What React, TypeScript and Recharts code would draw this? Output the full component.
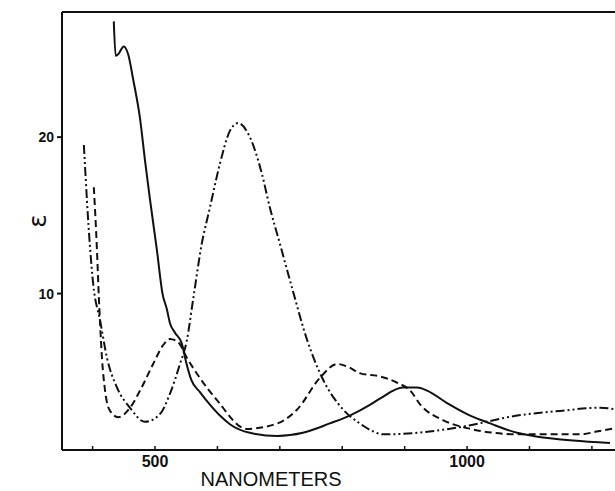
import React from 'react';
import { LineChart, Line, XAxis, YAxis, ReferenceLine } from 'recharts';

// wavelength (nm) / extinction readings, one pair of arrays per trace
const solidNm = [434, 437, 441, 450, 457, 465, 476, 484, 492, 503, 512, 519, 524, 532, 543, 550, 558, 572, 588, 604, 620, 652, 696, 737, 780, 812, 845, 861, 897, 920, 936, 968, 1005, 1037, 1080, 1106, 1170, 1229];
const solidEps = [27.4, 25.2, 25.3, 25.8, 25.3, 23.7, 21.2, 18.5, 16.0, 12.8, 10.0, 9.0, 8.1, 7.5, 6.8, 5.6, 4.5, 3.7, 2.9, 2.2, 1.65, 1.1, 0.9, 1.1, 1.7, 2.2, 2.9, 3.3, 4.0, 4.0, 3.8, 3.0, 2.2, 1.7, 1.1, 0.9, 0.6, 0.45];

const dashedNm = [402, 407, 410, 412, 415, 420, 428, 441, 460, 476, 497, 513, 524, 537, 551, 572, 599, 647, 696, 728, 764, 792, 810, 829, 861, 888, 909, 925, 962, 1000, 1042, 1085, 1133, 1181, 1210, 1237];
const dashedEps = [16.8, 12.8, 9.8, 8.1, 5.9, 3.8, 2.5, 2.1, 2.7, 3.8, 5.5, 6.7, 7.1, 6.9, 5.9, 4.6, 3.2, 1.35, 1.7, 2.6, 4.6, 5.5, 5.3, 4.9, 4.7, 4.3, 3.8, 2.9, 1.9, 1.4, 1.1, 1.0, 1.0, 1.0, 1.2, 1.4];

const dotNm = [386, 396, 401, 412, 423, 439, 460, 484, 508, 524, 540, 551, 561, 575, 588, 604, 620, 633, 652, 671, 684, 700, 720, 744, 768, 801, 828, 849, 865, 920, 994, 1080, 1149, 1213, 1237];
const dotEps = [19.5, 12.9, 10.6, 8.3, 5.9, 4.0, 2.7, 1.8, 2.3, 3.6, 5.5, 7.0, 9.6, 13.2, 15.5, 18.3, 20.4, 20.9, 20.0, 17.7, 15.5, 13.2, 10.3, 7.0, 4.6, 2.6, 1.7, 1.2, 1.0, 1.1, 1.5, 2.2, 2.5, 2.7, 2.6];

const nmTicks = [400, 500, 600, 700, 800, 900, 1000, 1100, 1200];
const nmLabels = [500, 1000];
const epsTicks = [10, 20];

const pairs = (xs: number[], ys: number[]) => xs.map((nm, i) => ({ nm, eps: ys[i] }));

const solidData = pairs(solidNm, solidEps);
const dashedData = pairs(dashedNm, dashedEps);
const dotData = pairs(dotNm, dotEps);

const NmTick = ({ x, y, payload }: any) => (
  <g>
    <line x1={x} x2={x} y1={y} y2={y - 4} stroke="#111" strokeWidth={1.5} />
    {nmLabels.includes(payload.value) && (
      <text x={x} y={y + 17} textAnchor="middle" fontSize={16} fontWeight="bold" fontFamily="Liberation Sans" fill="#111">
        {payload.value}
      </text>
    )}
  </g>
);

const XTitle = ({ viewBox }: any) => (
  <text
    x={viewBox.x + 209}
    y={viewBox.y + 36}
    textAnchor="middle"
    fontSize={20}
    fontFamily="Liberation Sans"
    fill="#111"
  >
    NANOMETERS
  </text>
);

const YTitle = ({ viewBox }: any) => (
  <text
    x={viewBox.x + 37}
    y={viewBox.y + 209}
    textAnchor="middle"
    dominantBaseline="central"
    fontSize={25}
    fontFamily="DejaVu Sans"
    fill="#111"
    transform={`rotate(-90 ${viewBox.x + 37} ${viewBox.y + 209})`}
  >
    ε
  </text>
);

export default function App() {
  return (
    <div style={{ position: 'absolute', left: 0, top: 0, width: 615, height: 491, background: '#fff' }}>
      <LineChart width={615} height={491} margin={{ top: 12, right: 0, bottom: 0, left: 0 }}>
        <XAxis
          type="number"
          dataKey="nm"
          domain={[351, 1237]}
          ticks={nmTicks}
          allowDataOverflow
          height={41}
          stroke="#111"
          strokeWidth={2}
          tickLine={false}
          tickSize={0}
          tickMargin={0}
          tick={<NmTick />}
          label={<XTitle />}
        />
        <YAxis
          type="number"
          domain={[0, 28]}
          ticks={epsTicks}
          allowDataOverflow
          width={62}
          stroke="#111"
          strokeWidth={2}
          tickSize={5}
          tickMargin={3}
          tick={{ fontSize: 14, fontWeight: 'bold', fontFamily: 'Liberation Sans', fill: '#111' }}
          label={<YTitle />}
        />
        <ReferenceLine y={28} stroke="#111" strokeWidth={2} />
        <Line
          data={solidData}
          dataKey="eps"
          type="monotone"
          stroke="#111"
          strokeWidth={2}
          dot={false}
          isAnimationActive={false}
        />
        <Line
          data={dashedData}
          dataKey="eps"
          type="monotone"
          stroke="#111"
          strokeWidth={2}
          strokeDasharray="7 4"
          dot={false}
          isAnimationActive={false}
        />
        <Line
          data={dotData}
          dataKey="eps"
          type="monotone"
          stroke="#111"
          strokeWidth={2}
          strokeDasharray="9 3 2 3 2 3"
          dot={false}
          isAnimationActive={false}
        />
      </LineChart>
    </div>
  );
}
